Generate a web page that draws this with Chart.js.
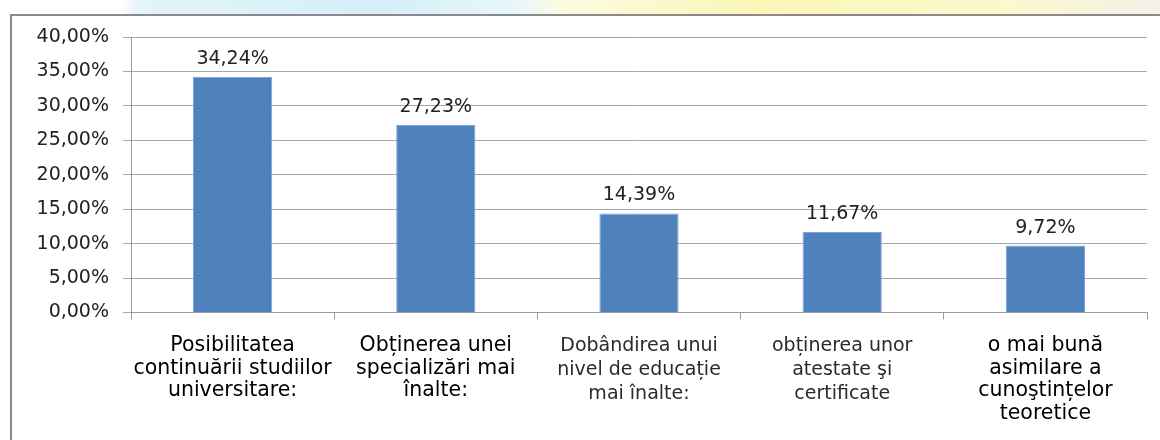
<!DOCTYPE html>
<html>
<head>
<meta charset="utf-8">
<script src="https://cdn.jsdelivr.net/npm/chart.js@4/dist/chart.umd.min.js"></script>
<style>
  html, body { margin: 0; padding: 0; background: #fff; }
  #page { position: relative; width: 1160px; height: 440px; overflow: hidden; }
  #band {
    position: absolute; left: 0; top: 0; width: 1160px; height: 14px;
    background: linear-gradient(90deg, #ffffff 0px, #ffffff 120px, #e3f4fa 140px, #d6eef8 380px, #e8f6fb 520px, #fdfbe0 560px, #fbf5b8 760px, #fdf8cc 1000px, #f4f0e8 1160px);
  }
  #frame {
    position: absolute; left: 10px; top: 14px; width: 1160px; height: 440px;
    border-left: 2px solid #8a8a8a; border-top: 2px solid #8a8a8a; background: #fff;
  }
  #wrap { position: absolute; left: 0; top: 0; width: 1160px; height: 440px; }
</style>
</head>
<body>
<div id="page">
  <div id="band"></div>
  <div id="frame"></div>
  <div id="wrap"><canvas id="chart"></canvas></div>
</div>
<script>
// categories (multi-line labels as in the picture)
const categories = [
  ['Posibilitatea', 'continuării studiilor', 'universitare:'],
  ['Obținerea unei', 'specializări mai', 'înalte:'],
  ['Dobândirea unui', 'nivel de educație', 'mai înalte:'],
  ['obținerea unor', 'atestate şi', 'certificate'],
  ['o mai bună', 'asimilare a', 'cunoştințelor', 'teoretice']
];
const values = [34.24, 27.23, 14.39, 11.67, 9.72];
const yTicks = [0, 5, 10, 15, 20, 25, 30, 35, 40];

const fmt = v => v.toFixed(2).replace('.', ',') + '%';

// value labels above the bars
const barLabels = {
  id: 'barLabels',
  afterDatasetsDraw(chart) {
    const ctx = chart.ctx;
    const meta = chart.getDatasetMeta(0);
    ctx.save();
    ctx.font = '19px "DejaVu Sans"';
    ctx.fillStyle = '#222';
    ctx.textAlign = 'center';
    ctx.textBaseline = 'alphabetic';
    meta.data.forEach((bar, i) => {
      ctx.fillText(fmt(values[i]), bar.x, bar.y - 13);
    });
    ctx.restore();
  }
};

const ctx = document.getElementById('chart').getContext('2d');
new Chart(ctx, {
  type: 'bar',
  data: {
    labels: categories,
    datasets: [{
      data: values,
      backgroundColor: '#4f81bd',
      borderColor: '#7ea3d2',
      borderWidth: 1,
      barPercentage: 0.39,
      categoryPercentage: 1
    }]
  },
  options: {
    responsive: true,
    maintainAspectRatio: false,
    animation: false,
    layout: { padding: { left: 0, right: 13, top: 37, bottom: 0 } },
    plugins: {
      legend: { display: false },
      tooltip: { enabled: false }
    },
    scales: {
      x: {
        grid: { drawOnChartArea: false, drawTicks: true, tickLength: 7, color: '#9a9a9a' },
        border: { color: '#9a9a9a' },
        ticks: {
          padding: 15,
          maxRotation: 0,
          autoSkip: false,
          color: ctx => (ctx.index === 2 || ctx.index === 3) ? '#2a2a2a' : '#000',
          font: ctx => (ctx.index === 2 || ctx.index === 3)
            ? { family: '"DejaVu Sans"', size: 19, lineHeight: '24px' }
            : { family: '"DejaVu Sans"', size: 20.5, lineHeight: '22.5px' }
        },
        afterFit: scale => { scale.height = 127.5; }
      },
      y: {
        min: 0,
        max: 40,
        afterBuildTicks: scale => { scale.ticks = yTicks.map(v => ({ value: v })); },
        grid: { color: '#a6a6a6', tickLength: 8 },
        border: { color: '#9a9a9a' },
        ticks: {
          padding: 14,
          color: '#222',
          font: { family: '"DejaVu Sans"', size: 19 },
          callback: v => fmt(v)
        },
        afterFit: scale => { scale.width = 131; }
      }
    }
  },
  plugins: [barLabels]
});
</script>
</body>
</html>
